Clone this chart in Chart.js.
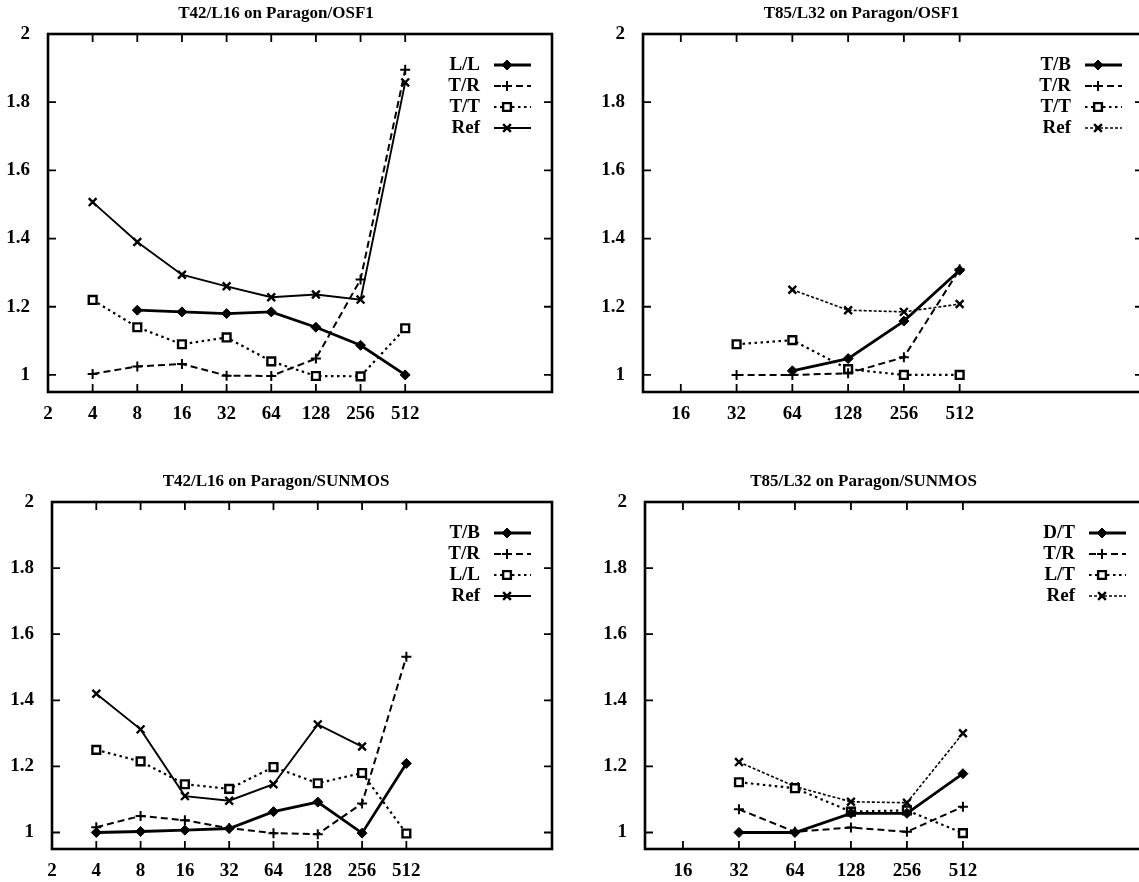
<!DOCTYPE html>
<html>
<head>
<meta charset="utf-8">
<script src="https://cdn.jsdelivr.net/npm/chart.js@4.4.1/dist/chart.umd.min.js"></script>
<style>
  html, body { margin: 0; padding: 0; background: #fff; }
  body { width: 1139px; height: 882px; position: relative; overflow: hidden; }
  canvas { position: absolute; }
</style>
</head>
<body>
<canvas id="c1" width="570" height="430" style="left:0px;top:0px"></canvas>
<canvas id="c2" width="580" height="430" style="left:580px;top:0px"></canvas>
<canvas id="c3" width="570" height="414" style="left:0px;top:468px"></canvas>
<canvas id="c4" width="580" height="414" style="left:580px;top:468px"></canvas>
<script>
// ---------------- DATA ----------------
const procsA = [4, 8, 16, 32, 64, 128, 256, 512];
const procsB = [32, 64, 128, 256, 512];
const xTicksA = [2, 4, 8, 16, 32, 64, 128, 256, 512];
const xTicksB = [16, 32, 64, 128, 256, 512];
const yTicks = [1, 1.2, 1.4, 1.6, 1.8, 2];

const titles = [
  "T42/L16 on Paragon/OSF1",
  "T85/L32 on Paragon/OSF1",
  "T42/L16 on Paragon/SUNMOS",
  "T85/L32 on Paragon/SUNMOS"
];

// Panel 1: T42/L16 on Paragon/OSF1
const p1Labels = ["L/L", "T/R", "T/T", "Ref"];
const p1_LL  = [null, 1.19, 1.185, 1.18, 1.185, 1.14, 1.087, 1.0];
const p1_TR  = [1.003, 1.025, 1.032, 0.998, 0.997, 1.048, 1.28, 1.895];
const p1_TT  = [1.22, 1.14, 1.09, 1.11, 1.04, 0.997, 0.996, 1.137];
const p1_Ref = [1.507, 1.39, 1.294, 1.26, 1.228, 1.236, 1.221, 1.858];

// Panel 2: T85/L32 on Paragon/OSF1
const p2Labels = ["T/B", "T/R", "T/T", "Ref"];
const p2_TB  = [null, 1.012, 1.048, 1.158, 1.307];
const p2_TR  = [1.0, 1.0, 1.005, 1.052, 1.31];
const p2_TT  = [1.09, 1.102, 1.017, 1.0, 1.0];
const p2_Ref = [null, 1.25, 1.19, 1.185, 1.208];

// Panel 3: T42/L16 on Paragon/SUNMOS
const p3Labels = ["T/B", "T/R", "L/L", "Ref"];
const p3_TB  = [1.0, 1.003, 1.007, 1.012, 1.063, 1.092, 0.998, 1.209];
const p3_TR  = [1.016, 1.05, 1.037, 1.013, 0.998, 0.995, 1.088, 1.532];
const p3_LL  = [1.25, 1.215, 1.146, 1.132, 1.198, 1.149, 1.18, 0.997];
const p3_Ref = [1.42, 1.312, 1.11, 1.096, 1.146, 1.327, 1.26, null];

// Panel 4: T85/L32 on Paragon/SUNMOS
const p4Labels = ["D/T", "T/R", "L/T", "Ref"];
const p4_DT  = [1.0, 1.0, 1.058, 1.058, 1.178];
const p4_TR  = [1.07, 1.002, 1.015, 1.002, 1.078];
const p4_LT  = [1.152, 1.134, 1.063, 1.067, 0.998];
const p4_Ref = [1.213, 1.139, 1.093, 1.09, 1.3];

// ---------------- STYLES ----------------
const FONT = '"Liberation Serif", "Times New Roman", Times, serif';
Chart.defaults.font.family = FONT;
Chart.defaults.color = '#000';

const stSolidDiamond = { borderWidth: 2.8, borderDash: [], pointStyle: 'rectRot', pointRadius: 5, pointBorderWidth: 1, pointBackgroundColor: '#000' };
const stDashedPlus   = { borderWidth: 2, borderDash: [7, 4], pointStyle: 'cross', pointRadius: 5, pointBorderWidth: 2, pointBackgroundColor: '#000' };
const stDottedSquare = { borderWidth: 2.2, borderDash: [2.5, 3.5], pointStyle: 'rect', pointRadius: 5.5, pointBorderWidth: 2.4, pointBackgroundColor: '#fff' };
const stRefSolid     = { borderWidth: 1.9, borderDash: [], pointStyle: 'crossRot', pointRadius: 5.5, pointBorderWidth: 2.4, pointBackgroundColor: '#000' };
const stRefFine      = { borderWidth: 1.6, borderDash: [3, 2], pointStyle: 'crossRot', pointRadius: 5.5, pointBorderWidth: 2.4, pointBackgroundColor: '#000' };

function series(label, procs, vals, st) {
  const pts = [];
  procs.forEach((p, i) => { if (vals[i] !== null) pts.push({ x: p, y: vals[i] }); });
  return Object.assign({
    label, data: pts, borderColor: '#000', pointBorderColor: '#000',
    fill: false, tension: 0, borderCapStyle: 'butt'
  }, st);
}

// ---------------- PLUGINS ----------------
const gpFrame = {
  id: 'gpFrame',
  beforeDatasetsDraw(chart, args, opts) {
    const { ctx, chartArea: a } = chart;
    const xs = chart.scales.x, ys = chart.scales.y;
    ctx.save();
    ctx.strokeStyle = '#000';
    ctx.setLineDash([]);
    ctx.lineWidth = 1.8;
    const tl = 8;
    ctx.beginPath();
    opts.xTicks.forEach(v => {
      const x = xs.getPixelForValue(v);
      ctx.moveTo(x, a.bottom); ctx.lineTo(x, a.bottom - tl);
      ctx.moveTo(x, a.top); ctx.lineTo(x, a.top + tl);
    });
    yTicks.forEach(v => {
      const y = ys.getPixelForValue(v);
      ctx.moveTo(a.left, y); ctx.lineTo(a.left + tl, y);
      ctx.moveTo(a.right, y); ctx.lineTo(a.right - tl, y);
    });
    ctx.stroke();
    ctx.lineWidth = 2.6;
    ctx.strokeRect(a.left, a.top, a.right - a.left, a.bottom - a.top);
    ctx.restore();
  }
};

function drawMarker(ctx, ds, x, y) {
  ctx.save();
  ctx.setLineDash([]);
  ctx.strokeStyle = '#000';
  ctx.fillStyle = ds.pointBackgroundColor;
  ctx.lineWidth = ds.pointBorderWidth;
  if (Chart.helpers && Chart.helpers.drawPoint) {
    Chart.helpers.drawPoint(ctx, { pointStyle: ds.pointStyle, radius: ds.pointRadius, rotation: 0, borderWidth: ds.pointBorderWidth }, x, y);
  }
  ctx.restore();
}

const gpLegend = {
  id: 'gpLegend',
  afterDatasetsDraw(chart, args, opts) {
    const { ctx, chartArea: a } = chart;
    ctx.save();
    ctx.font = 'bold 19px ' + FONT;
    ctx.textAlign = 'right';
    ctx.textBaseline = 'middle';
    ctx.fillStyle = '#000';
    chart.data.datasets.forEach((ds, i) => {
      const y = a.top + opts.top + i * opts.gap;
      ctx.fillText(ds.label, a.right - opts.textRight, y);
      ctx.save();
      ctx.strokeStyle = '#000';
      ctx.lineWidth = ds.borderWidth;
      ctx.setLineDash(ds.borderDash || []);
      ctx.beginPath();
      ctx.moveTo(a.right - opts.x1, y);
      ctx.lineTo(a.right - opts.x2, y);
      ctx.stroke();
      ctx.restore();
      drawMarker(ctx, ds, a.right - opts.mx, y);
    });
    ctx.restore();
  }
};

// ---------------- CHART FACTORY ----------------
function makeChart(id, title, datasets, cfg) {
  return new Chart(document.getElementById(id), {
    type: 'line',
    data: { datasets },
    plugins: [gpFrame, gpLegend],
    options: {
      responsive: false,
      animation: false,
      events: [],
      layout: { padding: { left: 0, right: cfg.padRight, top: 0, bottom: 0 } },
      plugins: {
        legend: { display: false },
        tooltip: { enabled: false },
        title: {
          display: true, text: title, color: '#000',
          font: { family: FONT, size: 17, weight: 'bold', lineHeight: '20px' },
          padding: { top: 4, bottom: 10 }
        },
        gpFrame: { xTicks: cfg.xTicks },
        gpLegend: { top: 31, gap: 21, textRight: 72, x1: 58, x2: 21, mx: 45 }
      },
      scales: {
        x: {
          type: 'logarithmic', min: cfg.xMin, max: 5000,
          grid: { display: false, drawTicks: false },
          border: { display: false },
          afterBuildTicks: s => { s.ticks = cfg.xTicks.map(v => ({ value: v })); },
          afterFit: s => { s.height = cfg.xh; },
          ticks: {
            autoSkip: false, maxRotation: 0, padding: 11, color: '#000',
            font: { family: FONT, size: 19, weight: 'bold' },
            callback: v => String(v)
          }
        },
        y: {
          type: 'linear', min: 0.95, max: 2,
          grid: { display: false, drawTicks: false },
          border: { display: false },
          afterBuildTicks: s => { s.ticks = yTicks.map(v => ({ value: v })); },
          afterFit: s => { s.width = cfg.yw; },
          ticks: {
            padding: 18, color: '#000',
            font: { family: FONT, size: 19, weight: 'bold' },
            callback: v => String(Math.round(v * 10) / 10)
          }
        }
      }
    }
  });
}

makeChart('c1', titles[0], [
  series(p1Labels[0], procsA, p1_LL, stSolidDiamond),
  series(p1Labels[1], procsA, p1_TR, stDashedPlus),
  series(p1Labels[2], procsA, p1_TT, stDottedSquare),
  series(p1Labels[3], procsA, p1_Ref, stRefSolid)
], { xTicks: xTicksA, xMin: 2, yw: 48, xh: 38, padRight: 18 });

makeChart('c2', titles[1], [
  series(p2Labels[0], procsB, p2_TB, stSolidDiamond),
  series(p2Labels[1], procsB, p2_TR, stDashedPlus),
  series(p2Labels[2], procsB, p2_TT, stDottedSquare),
  series(p2Labels[3], procsB, p2_Ref, stRefFine)
], { xTicks: xTicksB, xMin: 10, yw: 63, xh: 38, padRight: 17 });

makeChart('c3', titles[2], [
  series(p3Labels[0], procsA, p3_TB, stSolidDiamond),
  series(p3Labels[1], procsA, p3_TR, stDashedPlus),
  series(p3Labels[2], procsA, p3_LL, stDottedSquare),
  series(p3Labels[3], procsA, p3_Ref, stRefSolid)
], { xTicks: xTicksA, xMin: 2, yw: 52, xh: 33, padRight: 18 });

makeChart('c4', titles[3], [
  series(p4Labels[0], procsB, p4_DT, stSolidDiamond),
  series(p4Labels[1], procsB, p4_TR, stDashedPlus),
  series(p4Labels[2], procsB, p4_LT, stDottedSquare),
  series(p4Labels[3], procsB, p4_Ref, stRefFine)
], { xTicks: xTicksB, xMin: 10, yw: 65, xh: 33, padRight: 13 });
</script>
</body>
</html>
